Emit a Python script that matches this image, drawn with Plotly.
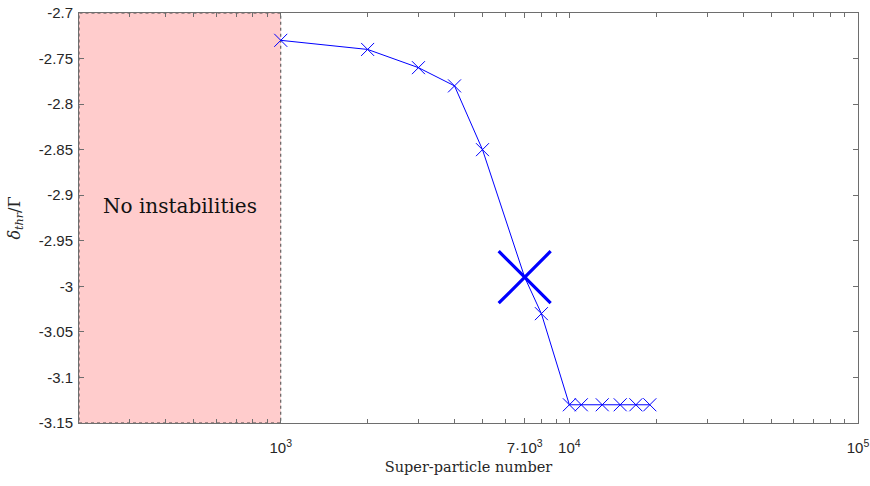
import plotly.graph_objects as go

# ── Data ─────────────────────────────────────────────────────────────────
n_particles = [1000, 2000, 3000, 4000, 5000, 7000, 8000,
               10000, 11000, 13000, 15000, 17000, 19000]
delta_thr = [-2.73, -2.74, -2.76, -2.78, -2.85, -2.99, -3.03,
             -3.13, -3.13, -3.13, -3.13, -3.13, -3.13]

# highlighted (chosen) point
chosen_n = [7000]
chosen_delta = [-2.99]

# region without instabilities
stable_region = [200, 1000]

x_tickvals = [1000, 7000, 10000, 100000]
x_ticktext = ["10<sup>3</sup>", "7·10<sup>3</sup>", "10<sup>4</sup>", "10<sup>5</sup>"]
x_minor = [200, 300, 400, 500, 600, 700, 800, 900,
           2000, 3000, 4000, 5000, 6000, 8000, 9000,
           20000, 30000, 40000, 50000, 60000, 70000, 80000, 90000]
y_tickvals = [-2.7, -2.75, -2.8, -2.85, -2.9, -2.95, -3.0, -3.05, -3.1, -3.15]
y_ticktext = ["-2.7", "-2.75", "-2.8", "-2.85", "-2.9", "-2.95", "-3", "-3.05", "-3.1", "-3.15"]

BLUE = "#0000ff"
AXIS = "#6e6e6e"
TXT = "#262626"
SERIF = "DejaVu Serif, Liberation Serif, serif"
SANS = "Liberation Sans, Arial, sans-serif"

fig = go.Figure()

fig.add_trace(go.Scatter(
    x=n_particles, y=delta_thr,
    mode="lines+markers",
    line=dict(color=BLUE, width=1),
    marker=dict(symbol="x-thin-open", size=13, color=BLUE,
                line=dict(color=BLUE, width=1)),
    showlegend=False,
))

fig.add_trace(go.Scatter(
    x=chosen_n, y=chosen_delta,
    mode="markers",
    marker=dict(symbol="x-thin-open", size=52, color=BLUE,
                line=dict(color=BLUE, width=3.2)),
    showlegend=False,
))

# shaded "no instabilities" zone
fig.add_shape(
    type="rect", xref="x", yref="paper",
    x0=stable_region[0], x1=stable_region[1], y0=0, y1=1,
    fillcolor="#ffcccc", line=dict(color="#444444", width=1, dash="dot"),
    layer="below",
)
fig.add_annotation(
    x=0.5 * (2.301 + 3.0), y=-2.912, xref="x", yref="y",
    text="No instabilities", showarrow=False,
    font=dict(family=SERIF, size=20, color="#111111"),
)

fig.update_xaxes(
    type="log", range=[2.301, 5.0], automargin=False,
    tickmode="array", tickvals=x_tickvals, ticktext=x_ticktext,
    ticks="inside", ticklen=5, tickcolor=AXIS, tickwidth=1,
    minor=dict(tickvals=x_minor, ticks="inside", ticklen=4, tickcolor=AXIS, showgrid=False),
    showline=True, linecolor=AXIS, linewidth=1, mirror="allticks",
    showgrid=False, zeroline=False, ticklabelstandoff=11, ticklabeloverflow="allow",
    tickfont=dict(family=SANS, size=15, color=TXT),
    title=dict(text="Super-particle number", standoff=6,
               font=dict(family=SERIF, size=14.5, color=TXT)),
)
fig.update_yaxes(
    range=[-3.15, -2.7], automargin=False,
    tickmode="array", tickvals=y_tickvals, ticktext=y_ticktext,
    ticks="inside", ticklen=5, tickcolor=AXIS, tickwidth=1,
    showline=True, linecolor=AXIS, linewidth=1, mirror="allticks",
    showgrid=False, zeroline=False, ticklabelstandoff=2, ticklabeloverflow="allow",
    tickfont=dict(family=SANS, size=15, color=TXT),
    title=dict(text="<i>δ</i><sub><i>thr</i></sub>/Γ", standoff=14,
               font=dict(family=SERIF, size=16, color=TXT)),
)

fig.update_layout(
    width=870, height=486,
    margin=dict(l=79, r=12, t=13, b=63, autoexpand=False),
    paper_bgcolor="white", plot_bgcolor="white",
)

# drop the browser's default 8px body margin so the figure fills the window
fig.write_html("out.html", config={"displayModeBar": False},
               post_script="document.body.style.margin = '0';")
